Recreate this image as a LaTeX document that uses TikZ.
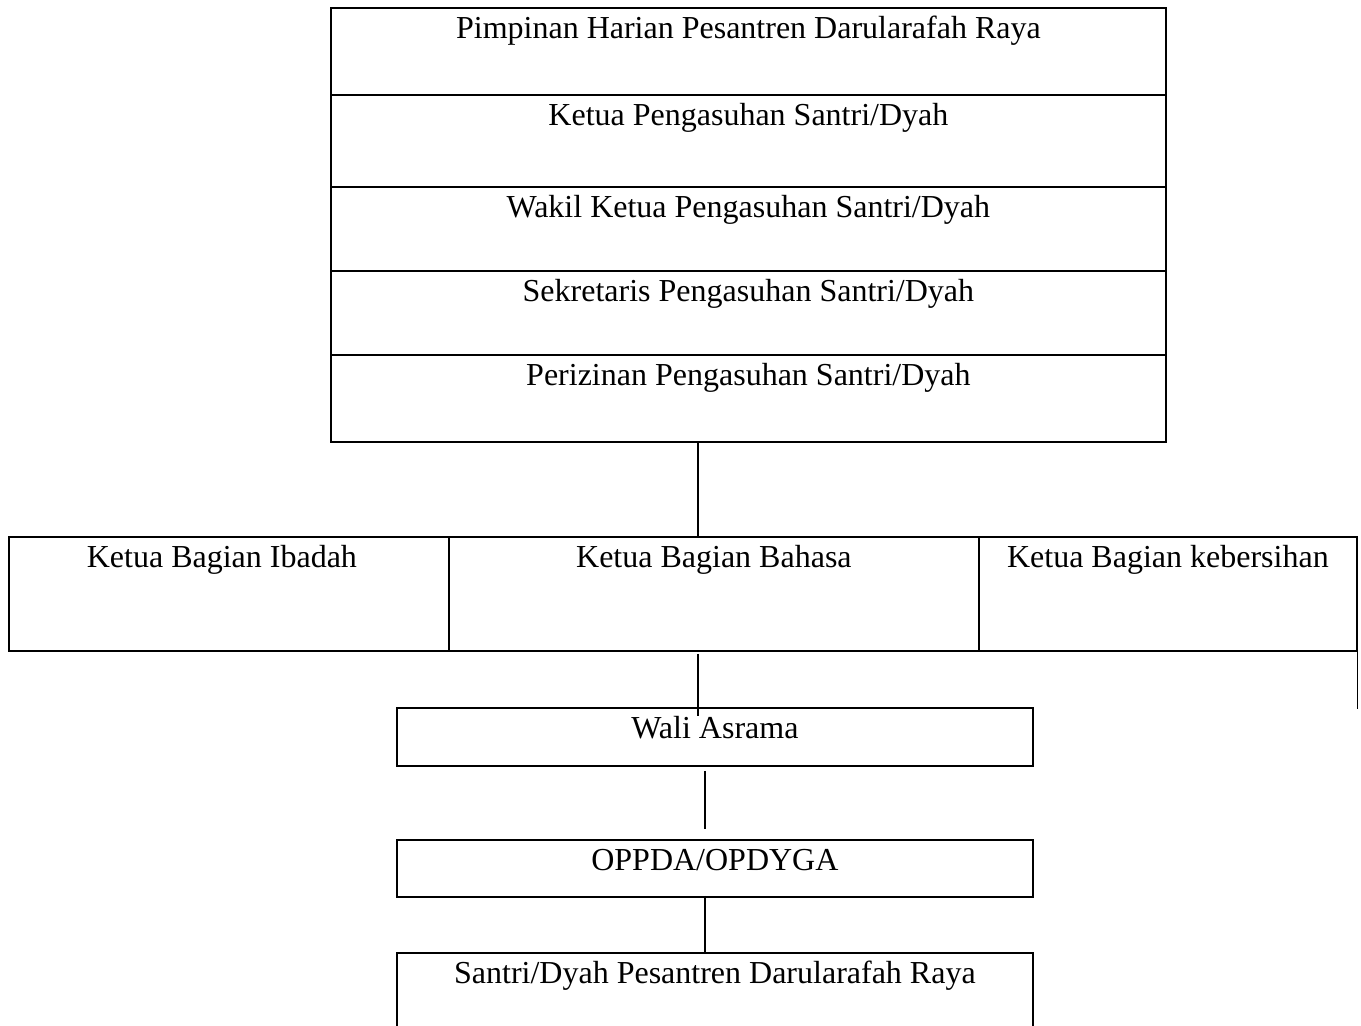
\documentclass[tikz,border=0pt]{standalone}
\usepackage{fontspec}
\setmainfont{Liberation Serif}
\usetikzlibrary{calc}
\begin{document}
\begin{tikzpicture}[x=1pt,y=-1pt,
  box/.style={draw=black,line width=1.8pt,rectangle,inner sep=0pt,anchor=north west},
  txt/.style={inner sep=0pt,anchor=base,font=\fontsize{32}{36}\selectfont},
  conn/.style={draw=black,line width=1.3pt}]
\useasboundingbox[fill=white] (0,0) rectangle (1361,1026);
% top stack
\node[box,minimum width=835pt,minimum height=87pt] (r1) at (330,7) {};
\node[box,minimum width=835pt,minimum height=92pt] (r2) at (330,94) {};
\node[box,minimum width=835pt,minimum height=84pt] (r3) at (330,186) {};
\node[box,minimum width=835pt,minimum height=84pt] (r4) at (330,270) {};
\node[box,minimum width=835pt,minimum height=87pt] (r5) at (330,354) {};
\node[txt] (t1) at ([yshift=-31pt]r1.north) {Pimpinan Harian Pesantren Darularafah Raya};
\node[txt] (t2) at ([yshift=-31pt]r2.north) {Ketua Pengasuhan Santri/Dyah};
\node[txt] (t3) at ([yshift=-31pt]r3.north) {Wakil Ketua Pengasuhan Santri/Dyah};
\node[txt] (t4) at ([yshift=-31pt]r4.north) {Sekretaris Pengasuhan Santri/Dyah};
\node[txt] (t5) at ([yshift=-31pt]r5.north) {Perizinan Pengasuhan Santri/Dyah};
% middle row
\node[box,minimum width=440pt,minimum height=114pt] (m1) at (8,536) {};
\node[box,minimum width=530pt,minimum height=114pt] (m2) at (448,536) {};
\node[box,minimum width=378pt,minimum height=114pt] (m3) at (978,536) {};
\node[txt] (tm1) at ([xshift=-7pt,yshift=-31pt]m1.north) {Ketua Bagian Ibadah};
\node[txt] (tm2) at ([yshift=-31pt]m2.north) {Ketua Bagian Bahasa};
\node[txt] (tm3) at ([yshift=-31pt]m3.north) {Ketua Bagian kebersihan};
% lower boxes
\node[box,minimum width=636pt,minimum height=58pt] (w) at (396,707) {};
\node[txt] (tw) at ([yshift=-31pt]w.north) {Wali Asrama};
\node[box,minimum width=636pt,minimum height=57pt] (o) at (396,839) {};
\node[txt] (to) at ([yshift=-31pt]o.north) {OPPDA/OPDYGA};
\node[box,minimum width=636pt,minimum height=100pt] (s) at (396,952) {};
\node[txt] (ts) at ([yshift=-31pt]s.north) {Santri/Dyah Pesantren Darularafah Raya};
% connectors
\coordinate (rend) at ([yshift=-57pt]m3.south east);
\draw[conn] ([xshift=368pt]r5.south west) -- ([xshift=368pt]r5.south west |- m2.north);
\draw[conn] ([xshift=250pt,yshift=-2pt]m2.south west) -- ([xshift=302pt,yshift=-9pt]w.north west);
\draw[conn] (m3.south east) -- (rend);
\draw[conn] ([xshift=309pt,yshift=-4pt]w.south west) -- ([xshift=309pt,yshift=10pt]o.north west);
\draw[conn] ([xshift=309pt,yshift=2pt]o.south west) -- ([xshift=309pt]s.north west);
\end{tikzpicture}
\end{document}
